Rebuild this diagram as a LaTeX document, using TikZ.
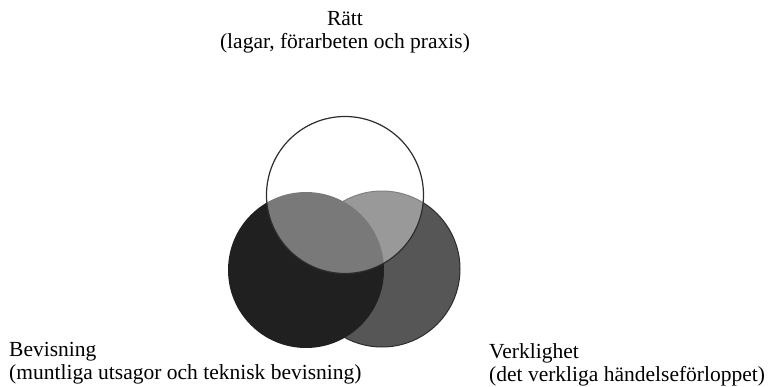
\documentclass[tikz,border=0pt]{standalone}
\usepackage{fontspec}
\setmainfont{Liberation Serif}
\usepackage{tikz}
\usetikzlibrary{positioning}
\definecolor{inkdark}{RGB}{32,32,32}
\definecolor{slate}{RGB}{86,86,86}
\definecolor{rim}{RGB}{45,45,45}

\begin{document}
\begin{tikzpicture}[x=1pt,y=-1pt,
    lbl/.style={font=\fontsize{21.5}{23.5}\selectfont,inner sep=0pt},
    disc/.style={draw=rim,line width=1.2pt}]
  \useasboundingbox (0,0) rectangle (769,386);
  \coordinate (ratt) at (345,195);
  \coordinate (bevis) at (306,270);
  \coordinate (verk) at (382,269);
  % the three circles, the top one lightens what lies under it
  \fill[slate] (verk) circle[radius=78pt];
  \draw[rim,line width=1pt] (verk) circle[radius=78pt];
  \fill[inkdark] (bevis) circle[radius=78pt];
  \fill[white,fill opacity=0.4] (ratt) circle[radius=78.5pt];
  \draw[disc] (ratt) circle[radius=78.5pt];
  \node[lbl,align=center,anchor=north] (rattlbl) at (345,11)
    {Rätt\\(lagar, förarbeten och praxis)};
  \node[lbl,align=left,anchor=north west] (bevislbl) at (9,342)
    {Bevisning\\(muntliga utsagor och teknisk bevisning)};
  \node[lbl,align=left,anchor=north west] (verklbl) at (489,343)
    {Verklighet\\(det verkliga händelseförloppet)};
\end{tikzpicture}
\end{document}
